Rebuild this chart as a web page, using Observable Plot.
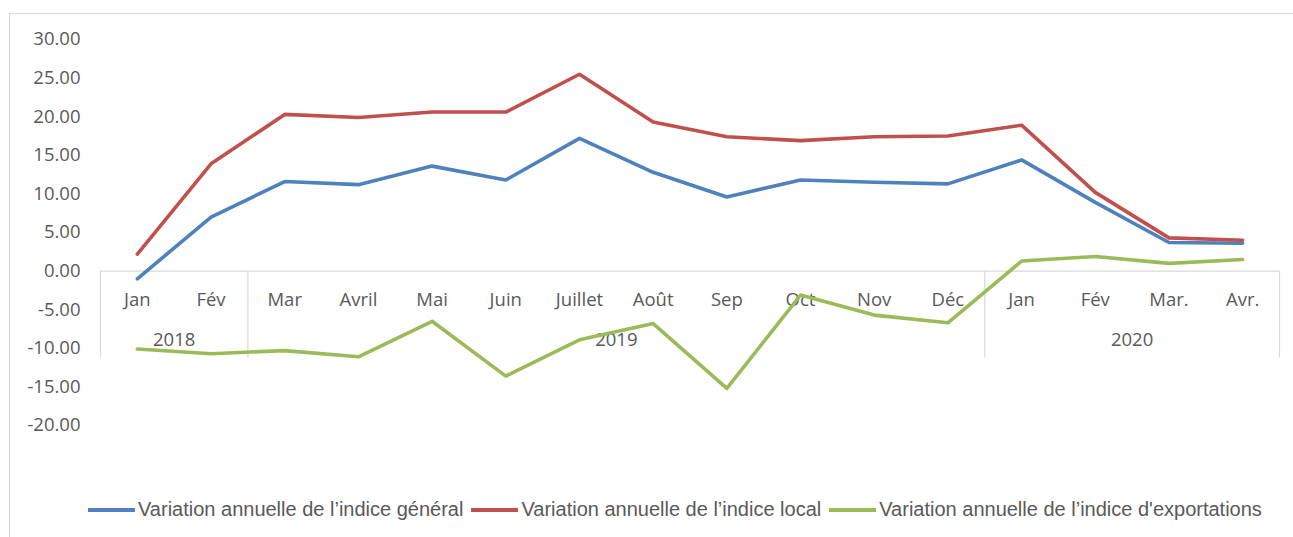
<!DOCTYPE html>
<html><head><meta charset="utf-8">
<script src="https://cdn.jsdelivr.net/npm/d3@7"></script>
<script src="https://cdn.jsdelivr.net/npm/@observablehq/plot@0.6"></script>
<style>
body{margin:0;background:#fff;}
#wrap{position:relative;width:1293px;height:537px;overflow:hidden;}
#frame{position:absolute;left:9px;top:13px;width:1300px;height:540px;border:1px solid #d9d9d9;box-sizing:border-box;}
#chart{position:absolute;left:0;top:0;}
#legend{position:absolute;left:88px;top:498px;width:1200px;display:flex;justify-content:flex-start;align-items:center;font-family:"Liberation Sans",sans-serif;font-size:20px;color:#595959;white-space:nowrap;}
.item{display:flex;align-items:center;margin-right:8px;}
.sw{width:47px;height:4px;margin-right:3px;}
</style></head>
<body><div id="wrap"><div id="frame"></div><div id="chart"></div><div id="legend"></div></div>
<script>
const months = ["Jan","Fév","Mar","Avril","Mai","Juin","Juillet","Août","Sep","Oct","Nov","Déc","Jan","Fév","Mar.","Avr."];
const years = ["2018","2018","2019","2019","2019","2019","2019","2019","2019","2019","2019","2019","2020","2020","2020","2020"];
const general = [-1.0,7.0,11.6,11.2,13.6,11.8,17.2,12.8,9.6,11.8,11.5,11.3,14.4,8.9,3.7,3.6];
const local = [2.2,13.9,20.3,19.9,20.6,20.6,25.5,19.3,17.4,16.9,17.4,17.5,18.9,10.2,4.3,4.0];
const exportations = [-10.1,-10.7,-10.3,-11.1,-6.5,-13.6,-8.9,-6.8,-15.2,-3.1,-5.7,-6.7,1.3,1.9,1.0,1.5];
const seriesNames = ["Variation annuelle de l\u2019indice général","Variation annuelle de l\u2019indice local","Variation annuelle de l\u2019indice d'exportations"];
const colors = ["#4F81BD","#C0504D","#9BBB59"];
const yTicks = [-20,-15,-10,-5,0,5,10,15,20,25,30];

const rows = [];
[general, local, exportations].forEach((arr, s) => arr.forEach((v, i) => rows.push({i, v, s: seriesNames[s]})));
const cats = months.map((m, i) => ({i, m, y: years[i]}));
const groups = [];
years.forEach((y, i) => {
  let g = groups.find(d => d.y === y);
  if (!g) { g = {y, start: i, end: i}; groups.push(g); } else g.end = i;
});
const bounds = [groups[0].start - 0.5, ...groups.map(g => g.end + 0.5)];
const yearLabels = groups.map(g => ({y: g.y, c: (g.start + g.end) / 2}));

const font = "'Open Sans', sans-serif";
const fs = 18.5;
const plot = Plot.plot({
  width: 1293, height: 470,
  marginLeft: 100, marginRight: 14, marginTop: 39, marginBottom: 45,
  style: {fontFamily: font, fontSize: fs + "px", color: "#595959", background: "transparent"},
  x: {domain: [-0.5, months.length - 0.5], axis: null},
  y: {domain: [-20, 30], ticks: yTicks, tickFormat: d => d.toFixed(2), tickSize: 0, tickPadding: 20, label: null},
  color: {domain: seriesNames, range: colors},
  marks: [
    Plot.ruleY([0], {stroke: "#d9d9d9", strokeWidth: 1.2}),
    Plot.ruleX(bounds, {x: d => d, y1: () => 0, y2: () => 0, insetBottom: -87, stroke: "#d9d9d9", strokeWidth: 1.2}),
    Plot.text(cats, {x: "i", y: () => 0, text: "m", dy: 29, fill: "#595959", fontSize: fs}),
    Plot.text(yearLabels, {x: "c", y: () => 0, text: "y", dy: 69, fill: "#595959", fontSize: fs}),
    Plot.line(rows, {x: "i", y: "v", stroke: "s", z: "s", strokeWidth: 3.6, strokeLinejoin: "round", strokeLinecap: "round"})
  ]
});
document.getElementById("chart").appendChild(plot);
const leg = document.getElementById("legend");
seriesNames.forEach((n, k) => {
  const it = document.createElement("div"); it.className = "item";
  const sw = document.createElement("div"); sw.className = "sw"; sw.style.background = colors[k];
  const t = document.createElement("span"); t.textContent = n;
  it.appendChild(sw); it.appendChild(t); leg.appendChild(it);
});
</script></body></html>
